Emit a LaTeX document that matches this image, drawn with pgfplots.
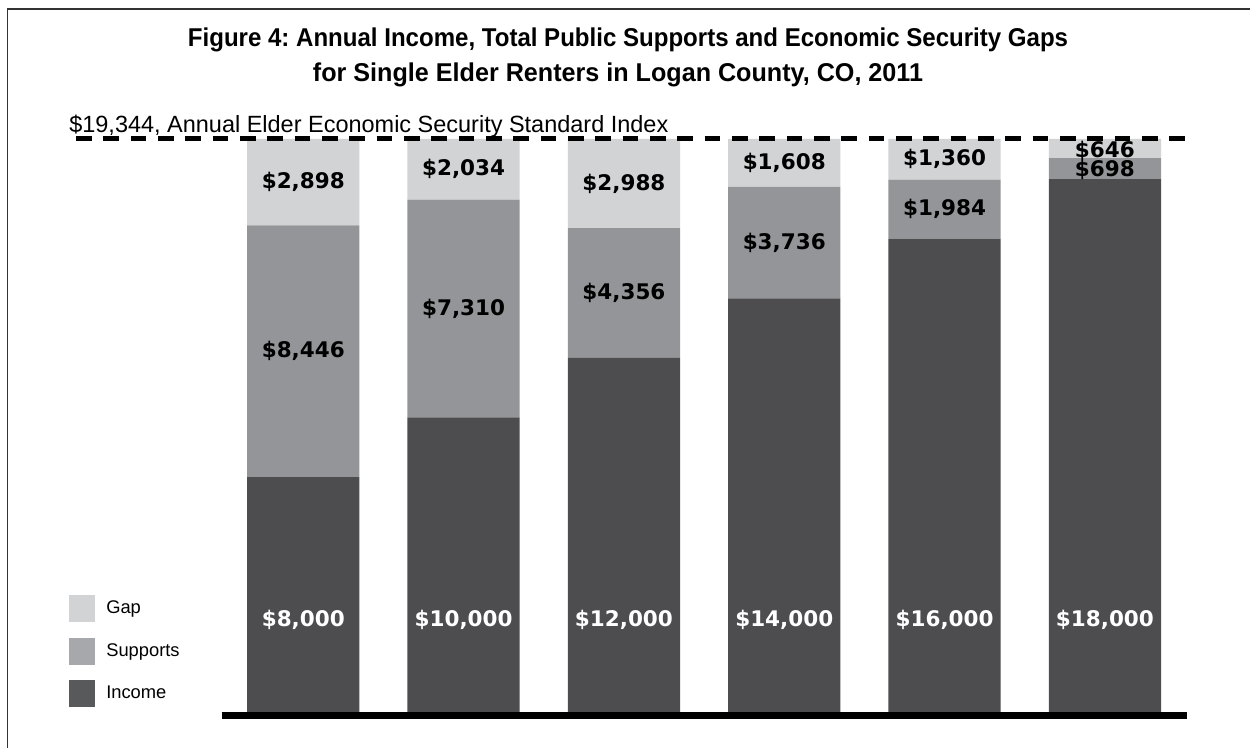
\documentclass[border=0pt]{standalone}
\usepackage{pgfplots}
\pgfplotsset{compat=1.18}
\usepackage{pgfplotstable}
\usepackage{fontspec}
\setmainfont{Liberation Sans}
\newfontfamily\labfont{DejaVu Sans}
\frenchspacing
\definecolor{incc}{HTML}{4D4D4F}
\definecolor{supc}{HTML}{939598}
\definecolor{gapc}{HTML}{D1D3D4}
\definecolor{incL}{HTML}{58595B}
\definecolor{supL}{HTML}{A6A8AB}

\pgfplotstableread{
x inc sup gap incy supy gapy
0 8000 8446 2898 3200 12223 17895
1 10000 7310 2034 3200 13655 18327
2 12000 4356 2988 3200 14178 17850
3 14000 3736 1608 3200 15868 18540
4 16000 1984 1360 3200 16992 18664
5 18000 698 646 3200 18290 18960
}\datatab

\pgfplotsset{common/.style={
  scale only axis, width=579.2pt, height=345.9pt,
  at={(133pt,19.5pt)}, anchor=south west,
  xmin=-0.509, xmax=5.512, ymin=0, ymax=19344,
  hide axis, clip=false,
  /pgf/number format/assume math mode=true,
  /pgf/number format/1000 sep={,}}}

\tikzset{vlab/.style={font=\labfont\bfseries\fontsize{12.9}{14}\selectfont, anchor=center, inner sep=0pt}}

\begin{document}
\begin{tikzpicture}
\useasboundingbox (0,0) rectangle (750pt,448.8pt);
\draw[black!80, line width=1pt] (4.4pt,-5pt) -- (4.4pt,443.4pt) -- (760pt,443.4pt);

\node[anchor=base, inner sep=0pt] at (376.8pt,420.8pt) {\resizebox{528pt}{11.2pt}{\bfseries Figure 4: Annual Income, Total Public Supports and Economic Security Gaps}};
\node[anchor=base, inner sep=0pt] at (370.8pt,399.8pt) {\resizebox{366pt}{11.2pt}{\bfseries for Single Elder Renters in Logan County, CO, 2011}};
\node[anchor=base west, inner sep=0pt] at (41.4pt,369.2pt) {\resizebox{359.4pt}{!}{\fontsize{13.5}{16}\selectfont \$19,344, Annual Elder Economic Security Standard Index}};

\begin{axis}[common, ybar stacked, bar width=0.7]
\addplot[fill=incc, draw=none] table[x=x, y=inc] {\datatab};
\addplot[fill=supc, draw=none] table[x=x, y=sup] {\datatab};
\addplot[fill=gapc, draw=none] table[x=x, y=gap] {\datatab};
\end{axis}

\begin{axis}[common,
  legend image code/.code={\fill[#1] (0pt,-8pt) rectangle (16pt,8pt); \path (22.6pt,0pt);},
  legend style={at={(-0.1589,0.209)}, anchor=north west, draw=none, fill=none,
    inner sep=0pt, row sep=9.5pt, font=\fontsize{11}{12}\selectfont,
    nodes={inner sep=0pt}, cells={anchor=west}}]
\addlegendimage{fill=gapc, draw=none}
\addlegendimage{fill=supL, draw=none}
\addlegendimage{fill=incL, draw=none}
\legend{Gap, Supports, Income}
\addplot[black, line width=4.6pt] coordinates {(-0.509,0) (5.512,0)};
\addplot[black, line width=3pt, dash pattern=on 9.4pt off 7pt] coordinates {(-1.418,19344) (5.512,19344)};
\addplot[draw=none, mark=none, point meta=explicit,
  nodes near coords={\$\pgfmathprintnumber{\pgfplotspointmeta}},
  every node near coord/.append style={vlab, white}] table[x=x, y=incy, meta=inc] {\datatab};
\addplot[draw=none, mark=none, point meta=explicit,
  nodes near coords={\$\pgfmathprintnumber{\pgfplotspointmeta}},
  every node near coord/.append style={vlab, black}] table[x=x, y=supy, meta=sup] {\datatab};
\addplot[draw=none, mark=none, point meta=explicit,
  nodes near coords={\$\pgfmathprintnumber{\pgfplotspointmeta}},
  every node near coord/.append style={vlab, black}] table[x=x, y=gapy, meta=gap] {\datatab};
\end{axis}
\end{tikzpicture}
\end{document}
